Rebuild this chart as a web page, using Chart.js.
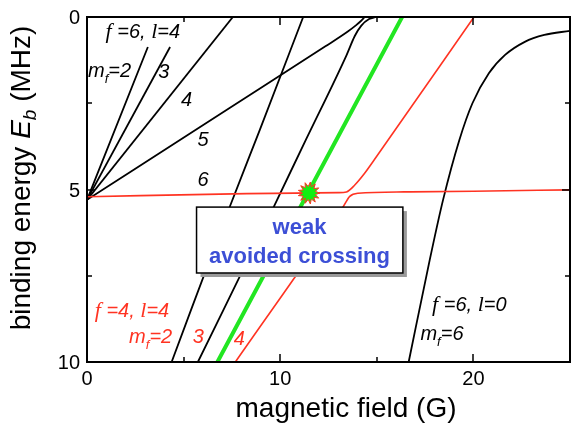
<!DOCTYPE html>
<html>
<head>
<meta charset="utf-8">
<script src="https://cdn.jsdelivr.net/npm/chart.js@4"></script>
<style>
  html, body { margin: 0; padding: 0; background: #fff; }
  canvas { display: block; }
</style>
</head>
<body>
<canvas id="chart" width="582" height="428"></canvas>
<script>
// Molecular levels near threshold: binding energy vs magnetic field

const BLACK = '#000000'
const RED = '#ff3322'
const GREEN = '#22e622'
const BLUE = '#3c4fd6'

// ---- curves, [field (G), binding energy (MHz)] ----
const fanMf2 = [[0, 5.3], [3.15, 0.87]]
const fanMf3 = [[0, 5.3], [4.3, 0.87]]
const fanMf4 = [[0, 5.3], [7.55, 0]]
const fanMf5 = [[0, 5.3], [7.26, 2.68], [12.34, 0.85], [13.5, 0.42], [13.9, 0.25], [14.15, 0.13], [14.37, 0]]
const steepA = [[4.38, 10], [7.41, 5.47], [8.94, 3.28], [11.19, 0]]
const steepB = [[5.74, 10], [9.71, 5.45], [11.32, 3.57], [13.43, 1.11], [13.86, 0.55], [14.2, 0.25], [14.6, 0.06], [14.96, 0]]
const greenLine = [[6.75, 10], [16.31, 0]]
const redUpper = [[0, 5.21], [8.27, 5.12], [13.0, 5.09], [13.43, 5.07], [13.86, 4.87], [14.37, 4.53], [14.87, 4.14], [20.03, 0]]
const redLower = [[7.68, 10], [13.26, 5.5], [13.6, 5.2], [14.03, 5.11], [16.4, 5.07], [20, 5.05], [25, 5.01]]
const swave = [[16.65, 10], [17.74, 7.04], [18.43, 5.3], [19.27, 3.57], [19.95, 2.5], [20.8, 1.63], [21.64, 1.1], [22.66, 0.72], [23.67, 0.52], [25, 0.4]]
const crossing = [[11.49, 5.1]]

// ---- axes ----
const xRange = [0, 25]
const yRange = [0, 10]
const xMajor = [0, 10, 20]
const xMinor = [5, 15]
const yMajor = [0, 5, 10]
const yMinor = [2.5, 7.5]
const xTitle = 'magnetic field (G)'

// ---- text annotations (data coords, left/baseline) ----
const FONTS = {
  it: { font: "italic 20px 'Liberation Sans', Arial" },
  serif: { font: "italic 22px 'Liberation Serif', serif" },
  sub: { font: "italic 13px 'Liberation Sans', Arial", dy: 6 },
  t: { font: "28px 'Liberation Sans', Arial" },
  ti: { font: "italic 28px 'Liberation Sans', Arial" },
  tsub: { font: "italic 19px 'Liberation Sans', Arial", dy: 6 },
}
const notes = [
  { x: 0.96, y: 0.61, color: BLACK, parts: [['f', 'serif'], [' =6, ', 'it'], ['l', 'serif'], ['=4', 'it']] },
  { x: 0.05, y: 1.74, color: BLACK, parts: [['m', 'it'], ['f', 'sub'], ['=2', 'it']] },
  { x: 3.69, y: 1.77, color: BLACK, parts: [['3', 'it']] },
  { x: 4.86, y: 2.58, color: BLACK, parts: [['4', 'it']] },
  { x: 5.72, y: 3.74, color: BLACK, parts: [['5', 'it']] },
  { x: 5.72, y: 4.90, color: BLACK, parts: [['6', 'it']] },
  { x: 0.40, y: 8.70, color: RED, parts: [['f', 'serif'], [' =4, ', 'it'], ['l', 'serif'], ['=4', 'it']] },
  { x: 2.18, y: 9.45, color: RED, parts: [['m', 'it'], ['f', 'sub'], ['=2', 'it']] },
  { x: 5.47, y: 9.45, color: RED, parts: [['3', 'it']] },
  { x: 7.59, y: 9.51, color: RED, parts: [['4', 'it']] },
  { x: 17.86, y: 8.52, color: BLACK, parts: [['f', 'serif'], [' =6, ', 'it'], ['l', 'serif'], ['=0', 'it']] },
  { x: 17.26, y: 9.36, color: BLACK, parts: [['m', 'it'], ['f', 'sub'], ['=6', 'it']] },
]
const yTitleParts = [['binding energy ', 't'], ['E', 'ti'], ['b', 'tsub'], [' (MHz)', 't']]
const callout = { x0: 5.67, x1: 16.35, y0: 5.51, y1: 7.42, cx: 11.0, lines: [['weak', 6.29], ['avoided crossing', 7.13]] }

function partsWidth(ctx, parts) {
  let w = 0
  for (const [txt, st] of parts) {
    ctx.font = FONTS[st].font
    w += ctx.measureText(txt).width
  }
  return w
}

function drawParts(ctx, parts, px, py, color) {
  let cx = px
  ctx.fillStyle = color
  ctx.textAlign = 'left'
  ctx.textBaseline = 'alphabetic'
  for (const [txt, st] of parts) {
    const f = FONTS[st]
    ctx.font = f.font
    ctx.fillText(txt, cx, py + (f.dy || 0))
    cx += ctx.measureText(txt).width
  }
}

function burst() {
  const c = document.createElement('canvas')
  c.width = 26
  c.height = 26
  const g = c.getContext('2d')
  const n = 13
  g.beginPath()
  for (let i = 0; i < n * 2; i++) {
    const r = i % 2 ? 6.5 : 11
    const a = i * Math.PI / n
    g.lineTo(13 + r * Math.cos(a), 13 + r * Math.sin(a))
  }
  g.closePath()
  g.fillStyle = '#11ee11'
  g.fill()
  g.strokeStyle = RED
  g.lineWidth = 1
  g.stroke()
  return c
}

function line(points, color, width) {
  return {
    data: points.map(([x, y]) => ({ x, y })),
    borderColor: color,
    borderWidth: width,
    pointRadius: 0,
    showLine: true,
    fill: false,
    cubicInterpolationMode: 'monotone',
  }
}

const decor = {
  id: 'decor',
  afterDatasetsDraw(chart) {
    const { ctx, chartArea: a, scales: { x, y } } = chart
    ctx.save()

    // callout box with shadow
    const bx = x.getPixelForValue(callout.x0)
    const by = y.getPixelForValue(callout.y0)
    const bw = x.getPixelForValue(callout.x1) - bx
    const bh = y.getPixelForValue(callout.y1) - by
    ctx.fillStyle = '#9a9a9a'
    ctx.fillRect(bx + 4, by + 4, bw, bh)
    ctx.fillStyle = '#ffffff'
    ctx.fillRect(bx, by, bw, bh)
    ctx.strokeStyle = BLACK
    ctx.lineWidth = 1.5
    ctx.strokeRect(bx, by, bw, bh)
    ctx.fillStyle = BLUE
    ctx.font = "bold 22px 'Liberation Sans', Arial"
    ctx.textAlign = 'center'
    ctx.textBaseline = 'alphabetic'
    for (const [txt, ly] of callout.lines) {
      ctx.fillText(txt, x.getPixelForValue(callout.cx), y.getPixelForValue(ly))
    }

    // frame
    ctx.strokeStyle = BLACK
    ctx.lineWidth = 2
    ctx.strokeRect(a.left, a.top, a.width, a.height)

    // inward ticks on all four sides
    ctx.lineWidth = 1.5
    ctx.beginPath()
    const xt = [...xMajor.map(v => [v, 8]), ...xMinor.map(v => [v, 5])]
    for (const [v, len] of xt) {
      const px = Math.round(x.getPixelForValue(v))
      ctx.moveTo(px, a.bottom); ctx.lineTo(px, a.bottom - len)
      ctx.moveTo(px, a.top); ctx.lineTo(px, a.top + len)
    }
    const yt = [...yMajor.map(v => [v, 8]), ...yMinor.map(v => [v, 5])]
    for (const [v, len] of yt) {
      const py = Math.round(y.getPixelForValue(v))
      ctx.moveTo(a.left, py); ctx.lineTo(a.left + len, py)
      ctx.moveTo(a.right, py); ctx.lineTo(a.right - len, py)
    }
    ctx.stroke()

    // tick labels
    ctx.fillStyle = BLACK
    ctx.font = "20px 'Liberation Sans', Arial"
    ctx.textAlign = 'center'
    for (const v of xMajor) ctx.fillText(String(v), x.getPixelForValue(v), a.bottom + 23)
    ctx.textAlign = 'right'
    for (const v of yMajor) ctx.fillText(String(v), a.left - 7, y.getPixelForValue(v) + 7)

    // axis titles
    ctx.font = FONTS.t.font
    ctx.textAlign = 'center'
    ctx.fillText(xTitle, 346, 417)
    ctx.save()
    ctx.translate(30, 178)
    ctx.rotate(-Math.PI / 2)
    drawParts(ctx, yTitleParts, -partsWidth(ctx, yTitleParts) / 2, 0, BLACK)
    ctx.restore()

    // curve labels
    for (const n of notes) {
      drawParts(ctx, n.parts, x.getPixelForValue(n.x), y.getPixelForValue(n.y), n.color)
    }
    ctx.restore()
  }
}

const star = {
  data: crossing.map(([x, y]) => ({ x, y })),
  pointStyle: burst(),
  pointRadius: 11,
  showLine: false,
}

new Chart(document.getElementById('chart'), {
  type: 'scatter',
  data: {
    datasets: [
      star,
      line(greenLine, GREEN, 4),
      line(redUpper, RED, 1.6),
      line(redLower, RED, 1.6),
      line(fanMf2, BLACK, 1.8),
      line(fanMf3, BLACK, 1.8),
      line(fanMf4, BLACK, 1.8),
      line(fanMf5, BLACK, 1.8),
      line(steepA, BLACK, 1.8),
      line(steepB, BLACK, 1.8),
      line(swave, BLACK, 1.8),
    ]
  },
  options: {
    responsive: false,
    animation: false,
    devicePixelRatio: 1,
    layout: { padding: { top: 17, right: 1, left: 0, bottom: 0 } },
    plugins: { legend: { display: false }, tooltip: { enabled: false } },
    scales: {
      x: {
        type: 'linear', min: xRange[0], max: xRange[1],
        grid: { display: false, drawTicks: false },
        border: { display: false },
        ticks: { display: false },
        afterFit: (s) => { s.height = 66 }
      },
      y: {
        type: 'linear', min: yRange[0], max: yRange[1], reverse: true,
        grid: { display: false, drawTicks: false },
        border: { display: false },
        ticks: { display: false },
        afterFit: (s) => { s.width = 87 }
      }
    }
  },
  plugins: [decor]
})
</script>
</body>
</html>
